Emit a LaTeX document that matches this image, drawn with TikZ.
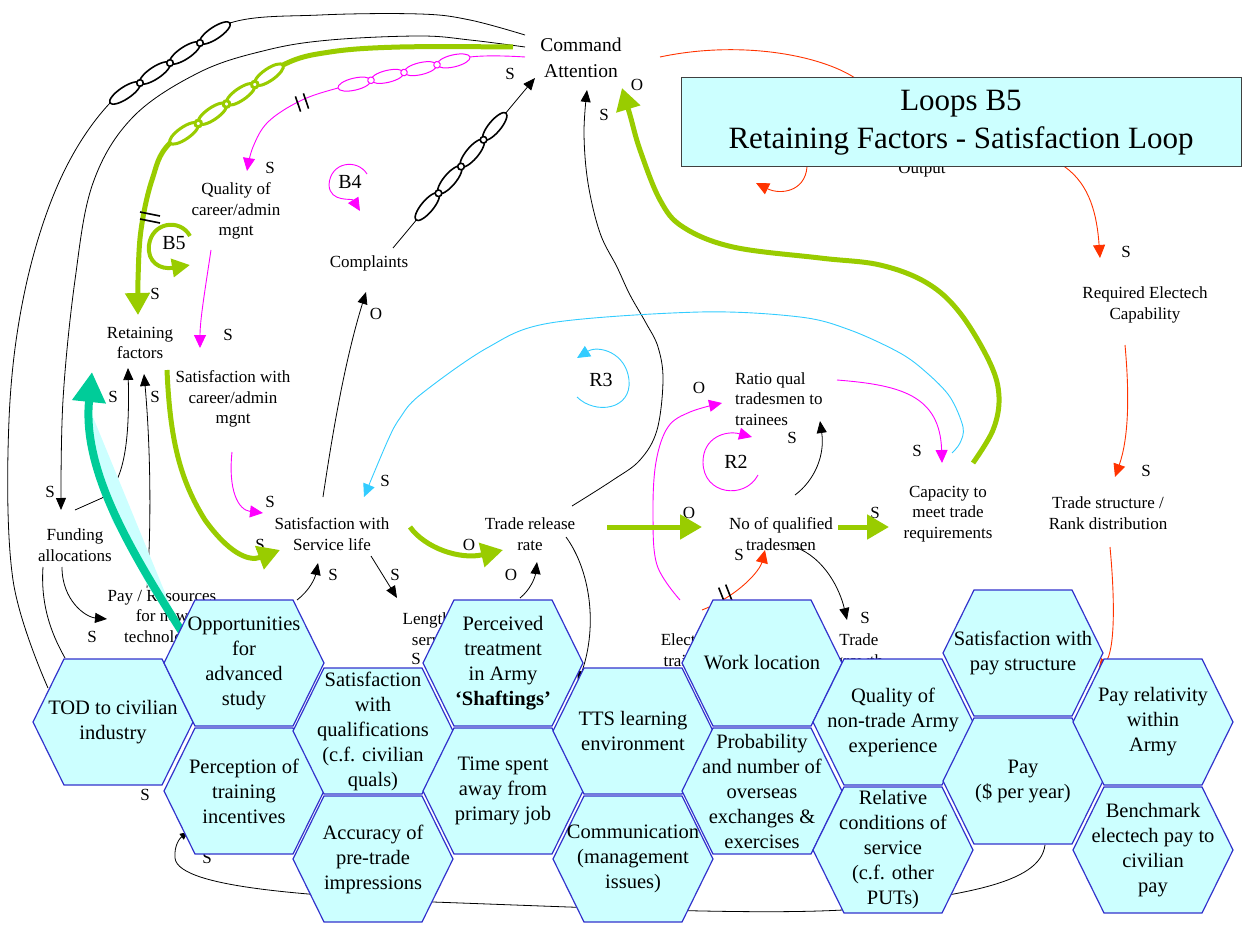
\documentclass[tikz,border=0pt]{standalone}
\usepackage{fontspec}
\setmainfont{Liberation Serif}
\usetikzlibrary{arrows.meta,calc}
\definecolor{lgreen}{HTML}{99CC00}
\definecolor{mag}{HTML}{FF00FF}
\definecolor{skyc}{HTML}{33CCFF}
\definecolor{redo}{HTML}{FF3300}
\definecolor{tealc}{HTML}{00CC99}
\definecolor{hexfill}{HTML}{CCFFFF}
\definecolor{hexedge}{HTML}{3333CC}
\definecolor{boxedge}{HTML}{404040}
\newcommand\hexcell[4]{%
  \draw[hexline] (#2,#3) ++(-49,-63) -- ++(98,0) -- ++(31,63) -- ++(-31,63) -- ++(-98,0) -- ++(-31,-63) -- cycle;
  \node[hextext] (#1) at (#2,#3) {#4};}
\newcommand\chainseg[4]{%
  \begin{scope}[shift={#1}, rotate=#2]
    \foreach \k in {0,1,2,3} {\draw[#4, fill=white] ({(\k+0.5)*#3/4},0) ellipse [x radius={#3/8}, y radius=6];}
    \foreach \k in {1,2,3} {\draw[#4, fill=white] ({\k*#3/4},0) circle [radius=3.3];}
  \end{scope}}
\begin{document}
\begin{tikzpicture}[x=1pt,y=-1pt,
  lbl/.style={font=\fontsize{17}{20.5}\selectfont, align=center, inner sep=0pt},
  pol/.style={font=\fontsize{17}{20}\selectfont, inner sep=0pt},
  looplbl/.style={font=\fontsize{20}{24}\selectfont, inner sep=0pt},
  hexline/.style={draw=hexedge, fill=hexfill, line width=1.2pt, line join=miter},
  hextext/.style={font=\fontsize{20.5}{25}\selectfont, align=center, inner sep=0pt},
  blkline/.style={draw=black, line width=0.8pt},
  blk/.style={blkline, -{Triangle[length=12pt,width=10pt]}},
  grnline/.style={draw=lgreen, line width=5pt},
  grn/.style={grnline, -{Triangle[length=22pt,width=24pt]}},
  magline/.style={draw=mag, line width=0.9pt},
  magar/.style={magline, -{Triangle[length=13pt,width=12pt]}},
  cyn/.style={draw=skyc, line width=0.9pt, -{Triangle[length=13pt,width=12pt]}},
  redl/.style={draw=redo, line width=0.9pt, -{Triangle[length=13pt,width=12pt]}},
  hashmark/.style={draw=black, line width=1.6pt},
  blackchain/.style={draw=black, line width=1.6pt},
  greenchain/.style={draw=lgreen, line width=3pt},
  magchain/.style={draw=mag, line width=1pt},
]
\useasboundingbox (0,0) rectangle (1242,925);

% ---------- text labels ----------
\node[lbl, font=\fontsize{19.5}{26}\selectfont] (ca) at (581,58) {Command\\Attention};
\node[lbl] (qual) at (236,211) {Quality of\\career/admin\\mgnt};
\node[lbl] (compl) at (369,263) {Complaints};
\node[lbl] (ret) at (140,343) {Retaining\\factors};
\node[lbl] (satcar) at (233,399) {Satisfaction with\\career/admin\\mgnt};
\node[lbl] (satserv) at (332,534) {Satisfaction with\\Service life};
\node[lbl] (fund) at (75,545) {Funding\\allocations};
\node[lbl] (payres) at (162,618) {Pay / Resources\\for new\\technology};
\node[lbl] (length) at (436,629) {Length of\\service};
\node[lbl] (trel) at (530,534) {Trade release\\rate};
\node[lbl, align=left, anchor=west] (ratio) at (735,399) {Ratio qual\\tradesmen to\\trainees};
\node[lbl] (noq) at (781,534) {No of qualified\\tradesmen};
\node[lbl] (cap) at (948,514) {Capacity to\\meet trade\\requirements};
\node[lbl] (req) at (1145,305) {Required Electech\\Capability};
\node[lbl] (tstr) at (1108,513) {Trade structure /\\Rank distribution};
\node[lbl] (elect) at (690,650) {Electech\\trainees};
\node[lbl] (tgrow) at (859,652) {Trade\\growth};
\node[lbl] (outp) at (922,170) {Output};

\node[looplbl] (b4) at (350,182) {B4};
\node[looplbl] (b5) at (174,243) {B5};
\node[looplbl] (r3) at (601,380) {R3};
\node[looplbl] (r2) at (736,462) {R2};

% polarity labels
\node[pol] (p1) at (510,74) {S};
\node[pol] (p2) at (637,85) {O};
\node[pol] (p3) at (604,115) {S};
\node[pol] (p4) at (270,168) {S};
\node[pol] (p5) at (155,294) {S};
\node[pol] (p6) at (228,335) {S};
\node[pol] (p7) at (376,314) {O};
\node[pol] (p8) at (113,397) {S};
\node[pol] (p9) at (155,397) {S};
\node[pol] (p10) at (50,492) {S};
\node[pol] (p11) at (385,481) {S};
\node[pol] (p12) at (270,502) {S};
\node[pol] (p13) at (260,545) {S};
\node[pol] (p14) at (333,575) {S};
\node[pol] (p15) at (395,575) {S};
\node[pol] (p16) at (469,545) {O};
\node[pol] (p17) at (511,575) {O};
\node[pol] (p18) at (689,513) {O};
\node[pol] (p19) at (739,555) {S};
\node[pol] (p20) at (699,388) {O};
\node[pol] (p21) at (792,438) {S};
\node[pol] (p22) at (917,451) {S};
\node[pol] (p23) at (875,513) {S};
\node[pol] (p24) at (1146,471) {S};
\node[pol] (p25) at (1126,252) {S};
\node[pol] (p26) at (92,637) {S};
\node[pol] (p27) at (865,618) {S};
\node[pol] (p28) at (416,659) {S};
\node[pol] (p29) at (145,795) {S};
\node[pol] (p30) at (207,858) {S};

% ---------- anchor coordinates ----------
\coordinate (caA) at (525,35);
\coordinate (caB) at (525,47);
\coordinate (caC) at (513,47);
\coordinate (caD) at (525,57);
\coordinate (caE) at (535,78);
\coordinate (caF) at (587,90);
\coordinate (caG) at (622,88);
\coordinate (caH) at (660,57);
\coordinate (todA) at (48,688);
\coordinate (fundIn) at (61,510);
\coordinate (retIn) at (138,315);
\coordinate (complOut) at (393,248);

% ---------- black connectors ----------
\draw[blkline] plot[smooth,tension=0.6] coordinates {(caA) (470,20) (420,14) (320,15) (230,23) (170,63) (110,103) (60,180) (25,290) (9,420) (13,580) (todA)};
\draw[blk] plot[smooth,tension=0.6] coordinates {(caB) (470,40) (420,36) (330,40) (267,50) (200,72) (133,117) (93,183) (75,280) (63,400) (fundIn)};
\draw[blk] (complOut) -- (caE);
\draw[blk] plot[smooth,tension=0.6] coordinates {(572,506) (613,480) (640,460) (657,430) (663,380) (658,347) (646,323) (630,295) (617,267) (600,233) (588,183) (584,133) (caF)};
\draw[blk] (323,497) .. controls (333,430) and (345,360) .. (366,292);
\draw[blk] (75,510) -- (102,498) .. controls (122,485) and (130,450) .. (128,368);
\draw[blk] (147,588) .. controls (152,520) and (150,440) .. (144,374);
\draw[blk] (62,567) .. controls (62,600) and (85,617) .. (107,619);
\draw[blkline] (43,567) .. controls (40,610) and (55,640) .. (65,658);
\draw[blk] (371,556) -- (397,598);
\draw[blk] (297,600) .. controls (310,590) and (315,578) .. (318,563);
\draw[blk] (520,598) .. controls (530,590) and (535,578) .. (537,562);
\draw[blk] (566,537) .. controls (590,570) and (598,625) .. (578,683);
\draw[blk] (795,495) .. controls (815,480) and (825,455) .. (820,421);
\draw[blk] (795,547) .. controls (825,558) and (840,590) .. (847,620);
\draw[blkline, -{Triangle[length=8pt,width=7pt]}] (1045,845) .. controls (1040,885) and (960,895) .. (843,910) .. controls (750,915) and (600,908) .. (433,902) .. controls (330,896) and (178,890) .. (175,858) .. controls (174,845) and (180,838) .. (188,832);

% ---------- magenta ----------
\draw[magar] plot[smooth,tension=0.6] coordinates {(caD) (470,57) (404,72) (338,88) (300,101) (268,122) (253,147) (247,171)};
\draw[magar] (211,250) .. controls (205,290) and (200,320) .. (200,348);
\draw[magar] (232,452) .. controls (228,490) and (238,510) .. (263,513);
\draw[magar] (367,174) .. controls (357,158) and (330,162) .. (329,185) .. controls (330,203) and (352,198) .. (360,211);
\draw[magar] (758,475) .. controls (745,500) and (703,495) .. (703,462) .. controls (703,438) and (725,430) .. (752,437);
\draw[magar] plot[smooth,tension=0.6] coordinates {(680,600) (657,565) (653,513) (656,462) (668,427) (690,412) (722,403)};
\draw[magar] (837,380) .. controls (900,385) and (940,395) .. (942,463);

% ---------- cyan ----------
\draw[cyn] plot[smooth,tension=0.55] coordinates {(952,453) (960,443) (963,427) (950,397) (927,373) (900,353) (850,330) (800,317) (700,312) (550,323) (487,348) (420,395) (400,418) (388,440) (364,497)};
\draw[cyn] (577,397) .. controls (595,415) and (632,410) .. (629,380) .. controls (626,352) and (598,345) .. (577,358);

% ---------- red ----------
\draw[redl] (caH) .. controls (740,40) and (820,55) .. (855,78) .. controls (950,140) and (1040,150) .. (1065,167) .. controls (1090,185) and (1097,215) .. (1100,258);
\draw[redl] (807,167) .. controls (805,192) and (780,195) .. (756,183);
\draw[redl] (1125,345) .. controls (1130,400) and (1128,440) .. (1115,477);
\draw[redl] (1110,547) .. controls (1115,600) and (1115,650) .. (1098,672);
\draw[redl] (702,610) .. controls (740,595) and (760,570) .. (765,550);

% ---------- green ----------
\draw[grn] plot[smooth,tension=0.6] coordinates {(caC) (400,47) (330,52) (283,65) (226,104) (170,143) (152,180) (141,230) (138,280) (retIn)};
\draw[grn] (167,370) .. controls (170,440) and (180,480) .. (205,520) .. controls (228,552) and (248,562) .. (280,550);
\draw[grn] (410,527) .. controls (425,548) and (460,560) .. (503,550);
\draw[grn] (607,527) -- (702,527);
\draw[grn] (838,527) -- (889,527);
\draw[grn] plot[smooth,tension=0.6] coordinates {(973,463) (993,430) (999,397) (990,363) (960,313) (927,283) (880,265) (820,258) (733,247) (683,227) (660,200) (640,150) (630,115) (caG)};
\draw[grnline, line width=4pt, -{Triangle[length=18pt,width=18pt]}] (190,236) .. controls (180,218) and (152,222) .. (149,245) .. controls (147,262) and (160,270) .. (190,265);

% ---------- chains ----------
\chainseg{(110,103)}{33.7}{144.2}{blackchain}
\chainseg{(170,143)}{34.6}{137.3}{greenchain}
\chainseg{(338,88)}{13.2}{135.6}{magchain}
\chainseg{(416,220)}{49.9}{139.8}{blackchain}

% ---------- delay marks ----------
\draw[hashmark] (295.4,96.4) -- (300.6,111.6);
\draw[hashmark] (303.4,93.4) -- (308.6,108.6);
\draw[hashmark] (140,212) -- (160,216);
\draw[hashmark] (140,219) -- (160,223);
\draw[hashmark] (718.7,587.6) -- (725.3,604.4);
\draw[hashmark] (725.7,584.6) -- (732.3,601.4);

% ---------- teal arrow ----------
\fill[hexfill] (86,400) -- (168,600) -- (182,630) -- (150,590) -- (112,520) -- (92,460) -- cycle;
\draw[draw=tealc, line width=8pt, -{Triangle[length=30pt,width=32pt]}] (182,632) .. controls (130,550) and (82,470) .. (92,372);

% ---------- hexagons ----------
\hexcell{tod}{113}{722}{TOD to civilian\\industry}
\hexcell{opp}{244}{663}{Opportunities\\for\\advanced\\study}
\hexcell{perc}{244}{791}{Perception of\\training\\incentives}
\hexcell{satq}{373}{731}{Satisfaction\\with\\qualifications\\(c.f. civilian\\quals)}
\hexcell{acc}{373}{859}{Accuracy of\\pre-trade\\impressions}
\hexcell{ptr}{503}{663}{Perceived\\treatment\\in Army\\\textbf{‘Shaftings’}}
\hexcell{tsa}{503}{791}{Time spent\\away from\\primary job}
\hexcell{tts}{633}{731}{TTS learning\\environment}
\hexcell{comm}{633}{859}{Communication\\(management\\issues)}
\hexcell{work}{762}{663}{Work location}
\hexcell{prob}{762}{791}{Probability\\and number of\\overseas\\exchanges \&\\exercises}
\hexcell{qnt}{893}{722}{Quality of\\non-trade Army\\experience}
\hexcell{rel}{893}{850}{Relative\\conditions of\\service\\(c.f. other\\PUTs)}
\hexcell{sps}{1023}{653}{Satisfaction with\\pay structure}
\hexcell{pay}{1023}{781}{Pay\\(\$ per year)}
\hexcell{prw}{1153}{722}{Pay relativity\\within\\Army}
\hexcell{bench}{1153}{850}{Benchmark\\electech pay to\\civilian\\pay}

% ---------- title ----------
\node[draw=boxedge, fill=hexfill, line width=1pt, minimum width=560pt, minimum height=89pt, inner sep=0pt, align=center, font=\fontsize{31}{38}\selectfont] (title) at (961,122.5) {Loops B5\\Retaining Factors - Satisfaction Loop};
\end{tikzpicture}
\end{document}
